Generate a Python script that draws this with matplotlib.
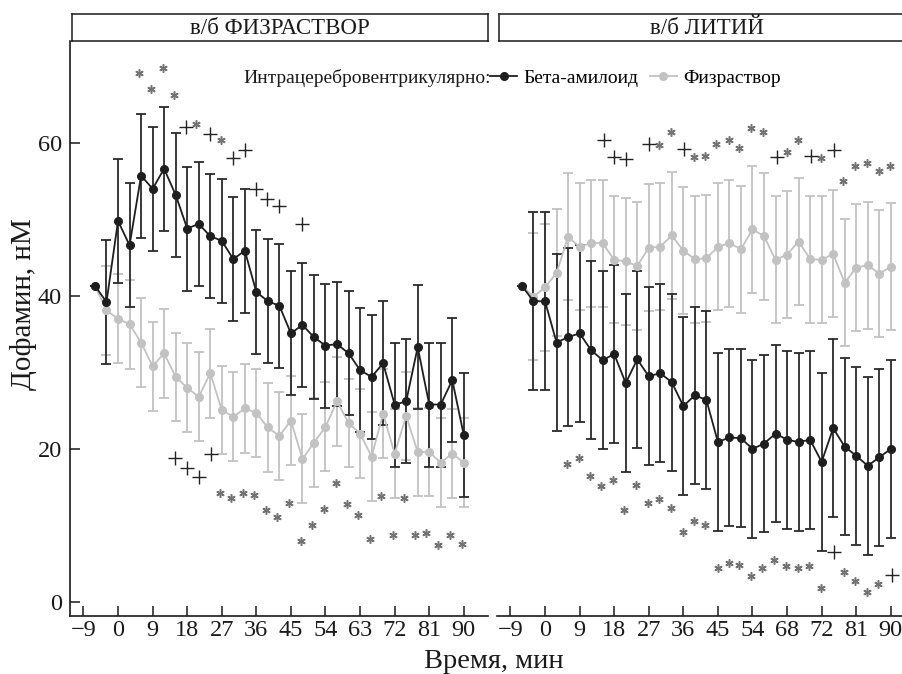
import matplotlib
matplotlib.use('Agg')
import matplotlib.pyplot as plt
from matplotlib.lines import Line2D

plt.rcParams['font.family'] = ['Liberation Serif', 'DejaVu Serif']

# time points, min
time_min = [-6, -3, 0, 3, 6, 9, 12, 15, 18, 21, 24, 27, 30, 33, 36, 39, 42,
            45, 48, 51, 54, 57, 60, 63, 66, 69, 72, 75, 78, 81, 84, 87, 90]

# в/б ФИЗРАСТВОР panel
sal_abeta = [41.3, 39.2, 49.8, 46.6, 55.7, 54.0, 56.6, 53.2, 48.8, 49.4, 47.8,
             47.2, 44.8, 45.9, 40.5, 39.3, 38.7, 35.1, 36.2, 34.6, 33.5, 33.7,
             32.5, 30.3, 29.4, 31.2, 25.8, 26.2, 33.3, 25.8, 25.8, 29.0, 21.8]
sal_abeta_se = [0] + [8.1] * 32
sal_saline = [41.3, 38.1, 37.0, 36.3, 33.9, 30.8, 32.5, 29.4, 28.0, 26.8, 29.9,
              25.1, 24.2, 25.3, 24.7, 22.8, 21.7, 23.7, 18.7, 20.8, 22.9, 26.2,
              23.4, 22.0, 19.0, 24.6, 19.4, 24.3, 19.6, 19.6, 18.2, 19.4, 18.2]
sal_saline_se = [0] + [5.8] * 32

# в/б ЛИТИЙ panel
li_abeta = [41.3, 39.3, 39.3, 33.9, 34.6, 35.1, 32.9, 31.6, 32.4, 28.6, 31.7,
            29.5, 29.9, 28.7, 25.6, 27.0, 26.4, 20.9, 21.5, 21.4, 20.0, 20.7,
            22.0, 21.2, 20.9, 21.2, 18.3, 22.7, 20.3, 19.1, 17.8, 18.9, 20.0]
li_abeta_se = [0] + [11.6] * 32
li_saline = [41.3, 39.9, 41.1, 43.0, 47.7, 46.4, 46.9, 46.9, 44.7, 44.5, 43.9,
             46.3, 46.4, 47.9, 45.9, 44.8, 44.9, 46.4, 46.9, 46.1, 48.7, 47.8,
             44.7, 45.4, 47.1, 44.8, 44.7, 45.5, 41.7, 43.7, 44.0, 42.9, 43.8]
li_saline_se = [0] + [8.3] * 32

# significance marks (x, y as placed on the chart)
sal_star_x = [5.5, 8.5, 11.6, 14.5, 20.2, 26.7,
              26.6, 29.5, 32.4, 35.5, 38.5, 41.5, 44.4, 47.6, 50.4, 53.6, 56.7,
              59.7, 62.5, 65.5, 68.5, 71.5, 74.5, 77.4, 80.2, 83.2, 86.3, 89.5]
sal_star_y = [69.1, 67.0, 69.8, 66.2, 62.5, 60.3,
              14.3, 13.6, 14.3, 14.0, 12.0, 11.1, 12.9, 8.0, 10.1, 12.2, 15.5,
              12.8, 11.4, 8.2, 13.9, 8.8, 13.6, 8.8, 9.0, 7.4, 8.7, 7.6]
sal_plus_x = [17.8, 24.0, 30.0, 33.1, 35.9, 38.9, 42.0, 47.8,
              14.9, 17.9, 21.1, 24.3]
sal_plus_y = [62.0, 61.2, 58.0, 59.0, 53.9, 52.6, 51.8, 49.4,
              18.8, 17.5, 16.3, 19.3]

li_star_x = [29.6, 32.9, 38.7, 41.6, 44.6, 47.9, 50.6, 53.7, 56.7, 62.9, 65.8,
             71.9, 77.5, 80.7, 83.7, 86.8, 89.9,
             5.8, 8.9, 11.7, 14.7, 17.7, 20.5, 23.6, 26.8, 29.7, 32.9, 35.8,
             38.7, 41.7, 45.0, 47.9, 50.6, 53.7, 56.4, 59.7, 62.8, 65.8, 68.6,
             71.9, 77.9, 80.8, 83.7, 86.6]
li_star_y = [59.7, 61.4, 58.2, 58.3, 59.8, 60.4, 59.3, 61.9, 61.4, 58.8, 60.4,
             58.0, 55.0, 57.0, 57.4, 56.3, 57.0,
             18.0, 18.8, 16.4, 15.2, 15.9, 12.0, 15.3, 12.9, 13.5, 12.3, 9.2,
             10.6, 10.1, 4.4, 5.1, 4.8, 3.4, 4.5, 5.5, 4.7, 4.5, 4.7,
             1.8, 3.9, 2.7, 1.3, 2.3]
li_plus_x = [15.3, 18.0, 21.0, 27.1, 36.1, 60.3, 69.3, 75.1, 75.1, 90.3]
li_plus_y = [60.3, 58.1, 57.9, 59.8, 59.2, 58.1, 58.3, 59.0, 6.5, 3.5]

xticks = [-9, 0, 9, 18, 27, 36, 45, 54, 63, 72, 81, 90]
left_xlabels = ['\u22129', '0', '9', '18', '27', '36', '45', '54', '63', '72', '81', '90']
right_xlabels = ['\u22129', '0', '9', '18', '27', '36', '45', '54', '68', '72', '81', '90']
yticks = [0, 20, 40, 60]

BLACK = '#1e1e1e'
GRAY = '#c2c2c2'
STAR = '#737373'

W, H = 903, 674
fig = plt.figure(figsize=(W / 100, H / 100), dpi=100)


def px_axes(x0, y0, x1, y1):
    return fig.add_axes([x0 / W, 1 - y1 / H, (x1 - x0) / W, (y1 - y0) / H])


def draw_series(ax, y, err, color, ecolor):
    ax.errorbar(time_min, y, yerr=err, fmt='none', ecolor=ecolor,
                elinewidth=1.3, capsize=3.8, capthick=1.3, zorder=2)
    ax.plot(time_min, y, color=color, lw=1.3, marker='o', ms=5.5,
            mec=color, mfc=color, zorder=3)


panels = [
    (70, 'в/б ФИЗРАСТВОР', sal_saline, sal_saline_se, sal_abeta, sal_abeta_se,
     sal_star_x, sal_star_y, sal_plus_x, sal_plus_y, left_xlabels),
    (497, 'в/б ЛИТИЙ', li_saline, li_saline_se, li_abeta, li_abeta_se,
     li_star_x, li_star_y, li_plus_x, li_plus_y, right_xlabels),
]

for i, (x0, title, gs, gse, bk, bse, sx, sy, px, py, xl) in enumerate(panels):
    ax = px_axes(x0, 41, x0 + 418, 616)
    draw_series(ax, gs, gse, GRAY, GRAY)
    draw_series(ax, bk, bse, BLACK, '#2a2a2a')
    ax.plot(sx, sy, ls='none', marker=(6, 2, 0), ms=6, mew=1.1, color=STAR, zorder=4)
    ax.plot(px, py, ls='none', marker='+', ms=10, mew=1.0, color='#222222', zorder=4)

    ax.set_xlim(-12.5, 96.3)
    ax.set_ylim(-1.83, 73.3)
    ax.set_xticks(xticks)
    ax.set_xticklabels(xl)
    ax.tick_params(direction='in', length=7, width=1.1, labelsize=17.5,
                   colors='#1a1a1a', pad=3)
    for s in ['top', 'right']:
        ax.spines[s].set_visible(False)
    for s in ['left', 'bottom']:
        ax.spines[s].set_linewidth(1.2)
        ax.spines[s].set_color('#1a1a1a')
    if i == 0:
        ax.set_yticks(yticks)
        ax.tick_params(axis='y', pad=6)
    else:
        ax.spines['left'].set_visible(False)
        ax.set_yticks([])

    # facet strip
    st = px_axes(x0 + 2, 14, x0 + 418, 41)
    st.set_xticks([])
    st.set_yticks([])
    for s in st.spines.values():
        s.set_linewidth(1.1)
        s.set_color('#1a1a1a')
    st.text(0.5, 0.45, title, ha='center', va='center', fontsize=16.5,
            transform=st.transAxes, color='#1a1a1a')

fig.text(24 / W, 1 - 304 / H, 'Дофамин, нМ', rotation=90, ha='center',
         va='center', fontsize=21, color='#1a1a1a')
fig.text(494 / W, 1 - 662 / H, 'Время, мин', ha='center', va='center',
         fontsize=20.5, color='#1a1a1a')

fig.text(491 / W, 1 - 78 / H, 'Интрацеребровентрикулярно:', ha='right',
         va='center', fontsize=14, color='#1a1a1a')
handles = [Line2D([], [], color=BLACK, lw=1.3, marker='o', ms=5.5),
           Line2D([], [], color=GRAY, lw=1.3, marker='o', ms=5.5)]
fig.legend(handles, ['Бета-амилоид', 'Физраствор'], loc='center left',
           bbox_to_anchor=(490 / W, 1 - 78 / H), ncol=2, frameon=False,
           fontsize=14, handlelength=1.4, handletextpad=0.3,
           columnspacing=0.6, borderpad=0, borderaxespad=0)

fig.savefig('out.png', dpi=100)
